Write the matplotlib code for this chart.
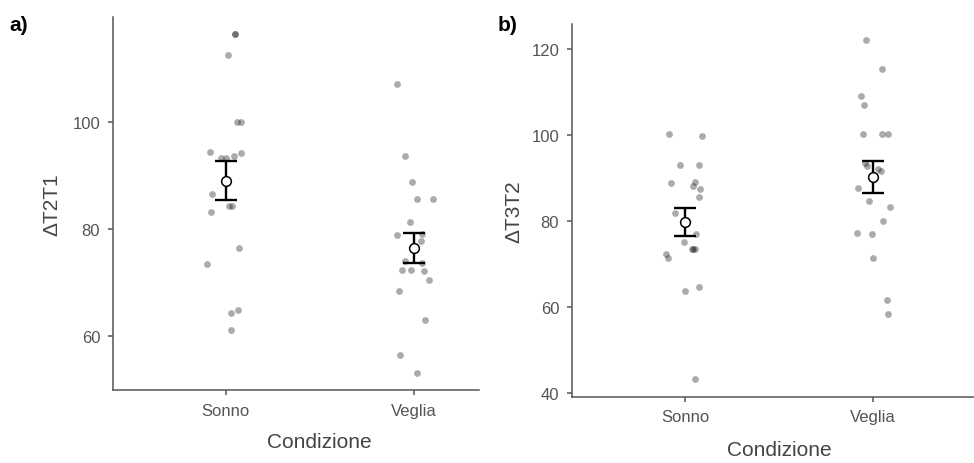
import matplotlib
matplotlib.use('Agg')
import matplotlib.pyplot as plt
from matplotlib.transforms import blended_transform_factory

plt.rcParams['font.family'] = ['Liberation Sans', 'DejaVu Sans']

groups = ['Sonno', 'Veglia']

# panel a) values, with the horizontal jitter (category units)
a_sonno = [116.6, 116.6, 112.6, 100.0, 100.0, 94.4, 93.2, 93.2, 93.6, 94.3,
           86.6, 83.1, 84.2, 84.2, 76.4, 73.4, 64.2, 64.7, 61.1]
a_sonno_jit = [0.049, 0.049, 0.012, 0.062, 0.080, -0.085, -0.027, 0.0, 0.046, 0.080,
               -0.071, -0.076, 0.018, 0.036, 0.071, -0.097, 0.027, 0.067, 0.030]
a_veglia = [107.2, 93.6, 88.7, 85.6, 85.5, 81.2, 78.9, 79.1, 77.7, 73.9,
            73.6, 72.2, 72.3, 72.1, 70.5, 68.3, 63.0, 56.3, 53.0]
a_veglia_jit = [-0.092, -0.049, -0.011, 0.014, 0.099, -0.021, -0.092, 0.041, 0.037, -0.048,
                0.041, -0.065, -0.016, 0.053, 0.080, -0.080, 0.060, -0.076, 0.018]
a_mean = [89.0, 76.4]
a_low = [85.4, 73.6]
a_high = [92.7, 79.2]

# panel b)
b_sonno = [100.1, 99.8, 92.9, 92.9, 88.9, 88.2, 89.0, 87.5, 85.5, 81.8,
           76.9, 75.2, 73.4, 73.4, 73.4, 72.3, 71.3, 64.7, 63.7, 43.2]
b_sonno_jit = [-0.087, 0.090, -0.027, 0.074, -0.074, 0.041, 0.053, 0.081, 0.076, -0.053,
               0.058, -0.005, 0.037, 0.041, 0.053, -0.103, -0.088, 0.073, 0.002, 0.051]
b_veglia = [122.1, 115.2, 109.1, 106.9, 100.1, 100.1, 100.1, 93.4, 92.7, 92.0,
            91.6, 87.7, 84.7, 83.2, 80.1, 77.1, 76.9, 71.5, 61.7, 58.3]
b_veglia_jit = [-0.037, 0.046, -0.065, -0.048, -0.057, 0.044, 0.078, -0.044, -0.035, 0.027,
                0.039, -0.080, -0.021, 0.087, 0.053, -0.088, -0.009, 0.0, 0.073, 0.076]
b_mean = [79.7, 90.3]
b_low = [76.6, 86.5]
b_high = [82.9, 94.0]

AXIS_COL = '#555555'
TEXT_COL = '#555555'
LABEL_COL = '#444444'


def draw_panel(ax, sonno, sonno_jit, veglia, veglia_jit, mean, low, high,
               ylabel, yticks, ylim, xlim, ylab_x, xlab_y):
    for i, (vals, jit) in enumerate([(sonno, sonno_jit), (veglia, veglia_jit)]):
        ax.scatter([i + j for j in jit], vals, s=24, color='black', alpha=0.33,
                   linewidths=0, zorder=2)
    for i in range(2):
        ax.errorbar(i, mean[i], yerr=[[mean[i] - low[i]], [high[i] - mean[i]]],
                    fmt='none', ecolor='black', elinewidth=1.7, capsize=8,
                    capthick=1.7, zorder=3)
    ax.plot([0, 1], mean, linestyle='none', marker='o', markersize=7,
            markerfacecolor='white', markeredgecolor='black', markeredgewidth=1.1,
            zorder=4)

    ax.set_xlim(*xlim)
    ax.set_ylim(*ylim)
    ax.set_xticks([0, 1])
    ax.set_xticklabels(groups)
    ax.set_yticks(yticks)
    for side in ['top', 'right']:
        ax.spines[side].set_visible(False)
    for side in ['left', 'bottom']:
        ax.spines[side].set_color(AXIS_COL)
        ax.spines[side].set_linewidth(1.1)
    ax.tick_params(axis='both', colors=AXIS_COL, labelcolor=TEXT_COL,
                   labelsize=12, length=3.5, width=1.1, pad=5.5)
    ax.set_ylabel(ylabel, fontsize=15, color=LABEL_COL)
    ax.set_xlabel('Condizione', fontsize=15, color=LABEL_COL)
    ax.yaxis.set_label_coords(ylab_x, 0.5)
    ax.yaxis.label.set_va('center')
    # label centred between the two categories, as in the original
    ax.xaxis.set_label_coords(0.5, xlab_y,
                              transform=blended_transform_factory(ax.transData, ax.transAxes))
    ax.xaxis.label.set_va('center')


fig = plt.figure(figsize=(9.74, 4.64), dpi=100)

ax1 = fig.add_axes([0.1157, 0.1573, 0.376, 0.804])
draw_panel(ax1, a_sonno, a_sonno_jit, a_veglia, a_veglia_jit, a_mean, a_low, a_high,
           '\u0394T2T1', [60, 80, 100], (49.8, 119.7), (-0.60, 1.345), -0.1665, -0.139)

ax2 = fig.add_axes([0.587, 0.1429, 0.413, 0.803])
draw_panel(ax2, b_sonno, b_sonno_jit, b_veglia, b_veglia_jit, b_mean, b_low, b_high,
           '\u0394T3T2', [40, 60, 80, 100, 120], (39.2, 125.7), (-0.602, 1.535), -0.145, -0.142)

fig.text(0.010, 0.946, 'a)', fontsize=15, fontweight='bold', color='black',
         va='center', ha='left')
fig.text(0.511, 0.946, 'b)', fontsize=15, fontweight='bold', color='black',
         va='center', ha='left')

plt.savefig('out.png', dpi=100)
plt.close(fig)
